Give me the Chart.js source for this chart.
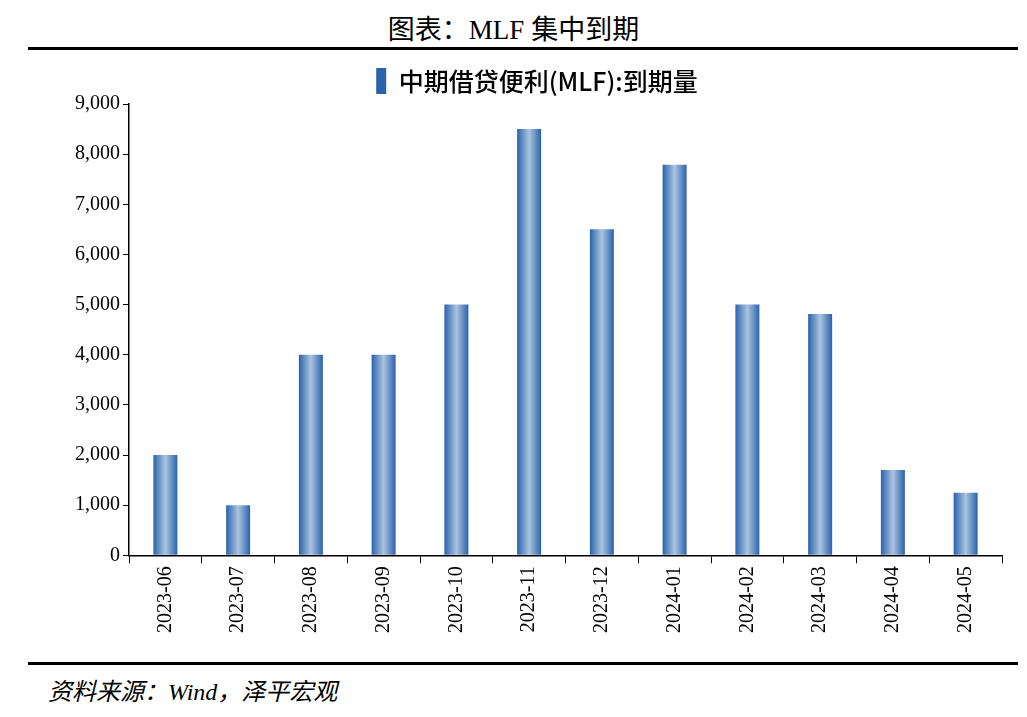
<!DOCTYPE html>
<html><head><meta charset="utf-8">
<script src="https://cdn.jsdelivr.net/npm/chart.js@4/dist/chart.umd.min.js"></script>
<style>
body{margin:0;background:#fff;width:1027px;height:717px;position:relative;overflow:hidden}
#title{position:absolute;top:8px;left:0;width:1027px;text-align:center;font:27px "Liberation Serif","Noto Sans CJK SC";color:#000}
.rule{position:absolute;left:28px;width:990px;height:3px;background:#000}
#src{position:absolute;left:48px;top:672px;font:italic 24px "Liberation Serif","Noto Sans CJK SC";color:#000}
#wrap{position:absolute;left:0;top:58px;width:1027px;height:578px}
</style></head><body>
<div id="title">图表：MLF 集中到期</div>
<div class="rule" style="top:47px"></div>
<div class="rule" style="top:662px"></div>
<div id="src">资料来源：Wind，泽平宏观</div>
<div id="wrap"><canvas id="c"></canvas></div>
<script>
const months = ["2023-06","2023-07","2023-08","2023-09","2023-10","2023-11","2023-12","2024-01","2024-02","2024-03","2024-04","2024-05"];
const maturity = [2000,1000,4000,4000,5000,8500,6500,7790,5000,4810,1700,1250];
const seriesName = "中期借贷便利(MLF):到期量";
const barPct = 0.33;

// horizontal shading across each bar
function barShade(context) {
  const chart = context.chart;
  const x = chart.scales.x;
  if (!x || !chart.chartArea || context.dataIndex === undefined) return "#4a7fc0";
  const cx = x.getPixelForValue(context.dataIndex);
  const w = (x.width / months.length) * barPct;
  const g = chart.ctx.createLinearGradient(cx - w / 2, 0, cx + w / 2, 0);
  g.addColorStop(0, "#2a62ad");
  g.addColorStop(0.5, "#abc4df");
  g.addColorStop(1, "#2a62ad");
  return g;
}

new Chart(document.getElementById("c"), {
  type: "bar",
  data: {
    labels: months,
    datasets: [{ label: seriesName, data: maturity, backgroundColor: barShade, barPercentage: barPct, categoryPercentage: 1 }],
  },
  options: {
    responsive: true,
    maintainAspectRatio: false,
    animation: false,
    layout: { padding: { left: 72, right: 25, top: 0, bottom: 0 } },
    plugins: {
      tooltip: { enabled: false },
      legend: {
        labels: { font: { family: "Noto Sans CJK SC", size: 25, weight: "500" }, color: "#000", boxWidth: 10, boxHeight: 26, padding: 10 },
      },
    },
    scales: {
      x: {
        grid: { display: true, drawOnChartArea: false, offset: true, color: "#000", tickLength: 8 },
        border: { color: "#000", width: 1.5 },
        ticks: { color: "#000", font: { family: "Liberation Serif", size: 20 }, maxRotation: 90, minRotation: 90 },
      },
      y: {
        min: 0, max: 9000,
        grid: { display: true, drawOnChartArea: false, color: "#000", tickLength: 6 },
        border: { color: "#000", width: 1.5 },
        ticks: { stepSize: 1000, color: "#000", font: { family: "Liberation Serif", size: 20 },
          callback: (v) => v.toLocaleString("en-US") },
      },
    },
  },
});
</script>
</body></html>
